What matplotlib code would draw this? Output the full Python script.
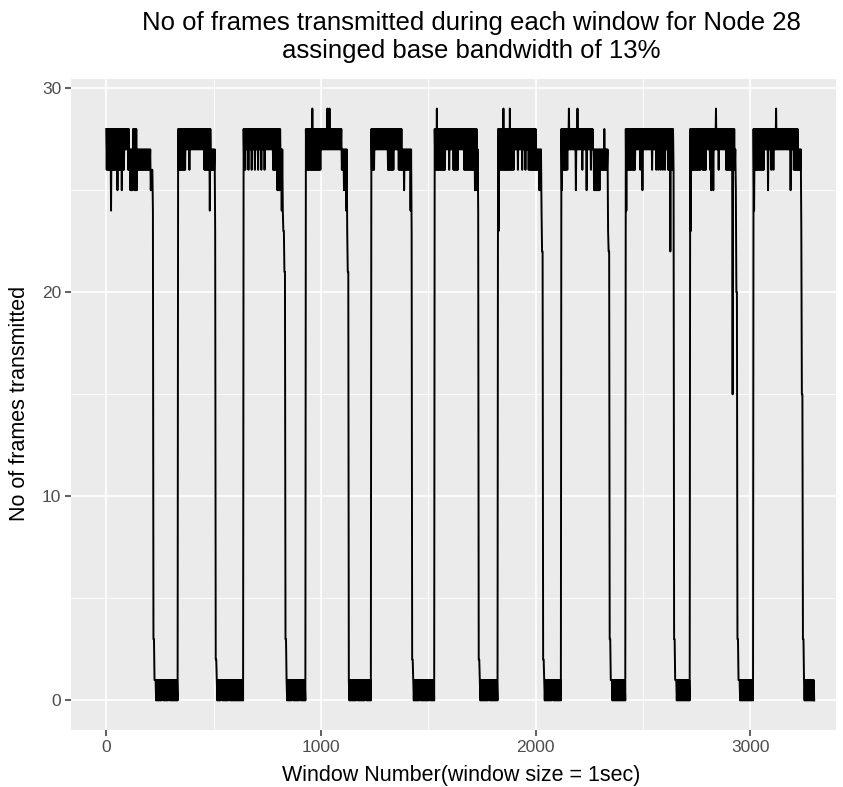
import numpy as np
import matplotlib

matplotlib.use("Agg")
import matplotlib.pyplot as plt
from matplotlib.ticker import MultipleLocator

# Frames sent per window in bins of STEP windows.
# Within each bin the trace swings between an upper and a lower value, so every
# cycle is stored as two run-length lists of (value, number of bins):
# high phase (~26-28 frames), falling edge, then the low phase (0-1 frames).
STEP = 5

upper_1 = [(28, 22), (27, 3), (28, 4), (27, 13), (26, 2), (3, 1), (1, 22)]
lower_1 = [(26, 4), (24, 1), (26, 5), (25, 1), (26, 3), (25, 1), (26, 2), (27, 3), (26, 2), (25, 3),
           (26, 1), (25, 3), (26, 12), (25, 1), (26, 1), (24, 1), (3, 1), (1, 1),
           (0, 6), (1, 1), (0, 5), (1, 1), (0, 8)]

upper_2 = [(28, 31), (27, 4), (2, 1), (1, 25)]
lower_2 = [(26, 7), (27, 3), (26, 1), (27, 13), (26, 5), (24, 1), (26, 4), (23, 1), (2, 1),
           (0, 4), (1, 1), (0, 6), (1, 1), (0, 13)]

upper_3 = [(28, 35), (27, 2), (23, 1), (21, 1), (3, 1), (1, 18)]
lower_3 = [(26, 2), (27, 2), (26, 1), (27, 2), (26, 1), (27, 2), (26, 1), (27, 2), (26, 1), (27, 2),
           (26, 1), (27, 2), (26, 1), (27, 7), (26, 4), (25, 3), (26, 1), (24, 2), (23, 1), (21, 1),
           (3, 1), (0, 5), (1, 1), (0, 6), (1, 1), (0, 5)]

upper_4 = [(28, 6), (29, 1), (28, 13), (29, 1), (28, 1), (29, 1), (28, 11), (27, 5), (21, 1), (1, 21)]
lower_4 = [(26, 14), (27, 19), (26, 2), (25, 2), (24, 1), (23, 1), (21, 1),
           (0, 7), (1, 1), (0, 7), (1, 1), (0, 5)]

upper_5 = [(28, 29), (27, 9), (2, 1), (1, 20)]
lower_5 = [(26, 3), (27, 12), (26, 6), (27, 4), (26, 5), (25, 1), (26, 5), (24, 1), (23, 1), (2, 1),
           (0, 6), (1, 1), (0, 8), (1, 1), (0, 4)]

upper_6 = [(28, 2), (29, 1), (28, 37), (27, 1), (2, 1), (1, 17)]
lower_6 = [(26, 10), (27, 3), (26, 1), (27, 3), (26, 5), (27, 5), (26, 10), (25, 1), (26, 1),
           (25, 1), (24, 1), (2, 1), (0, 8), (1, 1), (0, 8)]

upper_7 = [(28, 5), (29, 1), (28, 5), (29, 1), (28, 24), (27, 5), (22, 1), (2, 1), (1, 16)]
lower_7 = [(23, 1), (26, 14), (27, 3), (26, 1), (27, 3), (26, 1), (27, 2), (26, 1), (27, 2),
           (26, 10), (25, 2), (24, 1), (22, 1), (2, 1), (0, 7), (1, 1), (0, 8)]

upper_8 = [(28, 7), (29, 1), (28, 7), (29, 1), (28, 14), (27, 10), (28, 1), (27, 3), (22, 1),
           (3, 1), (1, 14)]
lower_8 = [(25, 1), (26, 5), (27, 7), (25, 1), (27, 5), (26, 1), (27, 3), (25, 1), (27, 3), (26, 1),
           (27, 2), (25, 6), (26, 7), (23, 1), (22, 1), (3, 1), (1, 1), (0, 13)]

upper_9 = [(28, 45), (3, 1), (1, 14)]
lower_9 = [(24, 1), (26, 8), (27, 4), (26, 1), (27, 1), (25, 1), (27, 8), (26, 1), (27, 3), (26, 1),
           (27, 1), (26, 1), (27, 1), (26, 1), (27, 1), (26, 1), (27, 1), (26, 1), (27, 2), (26, 2),
           (22, 1), (26, 3), (3, 1), (1, 1), (0, 13)]

upper_10 = [(28, 24), (29, 1), (28, 17), (27, 1), (20, 1), (3, 1), (1, 14)]
lower_10 = [(23, 1), (26, 9), (27, 1), (26, 4), (27, 3), (26, 1), (25, 1), (26, 1), (25, 1),
            (27, 4), (26, 1), (27, 6), (26, 6), (15, 1), (26, 2), (25, 1), (20, 1), (3, 1), (1, 1),
            (0, 13)]

upper_11 = [(28, 21), (29, 1), (28, 20), (27, 3), (15, 1), (3, 1), (1, 10)]
lower_11 = [(24, 1), (26, 9), (27, 3), (25, 1), (27, 2), (26, 1), (27, 1), (26, 1), (27, 15),
            (25, 1), (27, 2), (26, 7), (23, 1), (15, 1), (3, 1), (0, 10)]

cycles = [
    (upper_1, lower_1), (upper_2, lower_2), (upper_3, lower_3), (upper_4, lower_4),
    (upper_5, lower_5), (upper_6, lower_6), (upper_7, lower_7), (upper_8, lower_8),
    (upper_9, lower_9), (upper_10, lower_10), (upper_11, lower_11),
]

TITLE = ["No of frames transmitted during each window for Node 28",
         "assinged base bandwidth of 13%"]
X_LABEL = "Window Number(window size = 1sec)"
Y_LABEL = "No of frames transmitted"


def expand(runs):
    vals, counts = zip(*runs)
    return np.repeat(vals, counts).astype(float)


up = np.concatenate([expand(u) for u, _ in cycles])
lo = np.concatenate([expand(l) for _, l in cycles])
assert up.size == lo.size
bins = np.arange(up.size) * STEP
# trace: upper value at the start of a bin, lower value half a bin later
windows = np.column_stack([bins, bins + STEP / 2]).ravel()
frames = np.column_stack([up, lo]).ravel()

plt.rcParams["font.family"] = ["Liberation Sans", "DejaVu Sans"]

W, H = 843, 787
fig = plt.figure(figsize=(W / 100, H / 100), dpi=100)
# panel edges in pixels: left 71, right 836, top 79, bottom 730
ax = fig.add_axes([71 / W, 1 - 730 / H, (836 - 71) / W, (730 - 79) / H])
ax.set_facecolor("#EBEBEB")
for s in ax.spines.values():
    s.set_visible(False)

ax.plot(windows, frames, color="black", lw=1.4)

ax.set_xlim(-164, 3399)
ax.set_ylim(-1.45, 30.45)
ax.xaxis.set_major_locator(MultipleLocator(1000))
ax.xaxis.set_minor_locator(MultipleLocator(500))
ax.yaxis.set_major_locator(MultipleLocator(10))
ax.yaxis.set_minor_locator(MultipleLocator(5))
ax.grid(which="major", color="white", lw=1.2)
ax.grid(which="minor", color="white", lw=0.6)
ax.set_axisbelow(True)
ax.tick_params(which="major", length=4, width=1.1, color="#333333",
               labelcolor="#4D4D4D", labelsize=12.5, pad=3)
ax.tick_params(which="minor", length=0)

fig.text(461 / W, 1 - 775 / H, X_LABEL, ha="center", va="center", fontsize=15.5)
fig.text(20 / W, 1 - 403 / H, Y_LABEL, ha="center", va="center", rotation=90, fontsize=15.5)
fig.text(471 / W, 1 - 23 / H, TITLE[0], ha="center", va="center", fontsize=18.5)
fig.text(471 / W, 1 - 51 / H, TITLE[1], ha="center", va="center", fontsize=18.5)

fig.savefig("out.png", dpi=100)
